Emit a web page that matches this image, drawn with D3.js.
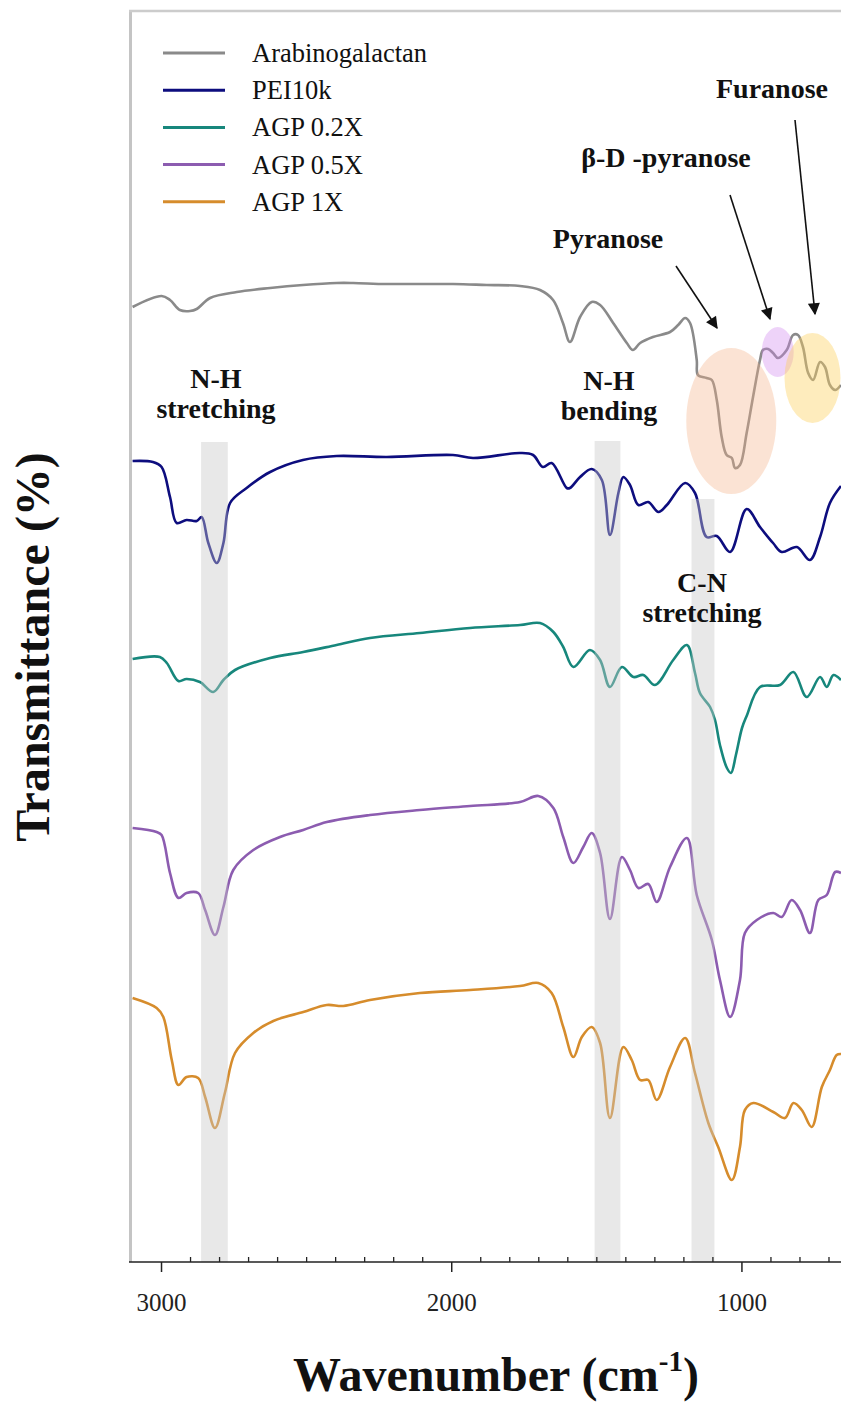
<!DOCTYPE html>
<html>
<head>
<meta charset="utf-8">
<script src="https://cdn.jsdelivr.net/npm/d3@7"></script>
<style>
  html, body { margin: 0; padding: 0; background: #fff; }
  svg { display: block; }
  text { font-family: "Liberation Serif", "Times New Roman", serif; }
</style>
</head>
<body>
<svg id="chart" width="841" height="1405"></svg>
<script>
// FTIR spectra, stacked with vertical offsets: [wavenumber (cm-1), offset transmittance]
const arabinogalactan = [
  [3098,95.5],[2998,96.6],[2969,96.2],[2935,95.2],[2900,95.1],[2877,95.3],[2831,96.4],[2739,97.0],
  [2624,97.4],[2511,97.7],[2395,97.9],[2338,97.9],[2222,97.8],[1994,97.8],[1878,97.7],[1763,97.6],
  [1694,97.2],[1649,96.2],[1615,93.9],[1591,92.0],[1556,94.5],[1516,96.0],[1487,95.7],[1442,93.9],
  [1395,91.9],[1374,91.2],[1349,91.9],[1305,92.5],[1246,93.0],[1218,93.7],[1194,94.4],[1177,93.9],
  [1154,90.2],[1150,88.7],[1120,88.4],[1102,88.2],[1085,86.2],[1068,82.5],[1051,80.7],[1033,80.4],
  [1022,79.4],[1005,79.7],[982,82.9],[960,86.5],[936,90.2],[926,91.2],[908,91.3],[891,90.9],
  [874,90.4],[844,91.2],[822,92.7],[805,92.7],[788,91.5],[770,88.9],[753,88.2],[729,90.0],
  [712,89.5],[695,87.7],[677,87.2],[657,87.7]
];
const pei10k = [
  [3098,80.1],[3028,80.0],[2998,79.5],[2969,76.5],[2946,73.9],[2912,74.2],[2877,74.1],[2860,74.5],
  [2837,71.9],[2808,69.9],[2785,71.9],[2762,75.9],[2705,77.4],[2624,79.0],[2511,80.2],[2395,80.6],
  [2222,80.5],[1994,80.7],[1925,80.4],[1763,80.9],[1718,80.7],[1684,79.5],[1654,79.9],[1602,77.4],
  [1591,77.4],[1556,78.5],[1516,79.3],[1481,78.2],[1453,72.7],[1424,76.9],[1407,78.5],[1384,77.7],
  [1355,75.7],[1321,76.0],[1286,75.0],[1257,75.7],[1194,77.9],[1160,76.9],[1120,72.5],[1085,72.6],
  [1039,71.0],[982,75.3],[936,73.5],[891,71.9],[861,71.0],[809,71.5],[764,70.2],[729,72.5],
  [695,75.9],[657,77.6]
];
const agp02 = [
  [3098,60.3],[3004,60.5],[2980,59.9],[2940,58.1],[2912,58.3],[2866,58.0],[2820,57.0],[2785,58.2],
  [2745,59.2],[2624,60.4],[2510,61.0],[2395,61.7],[2280,62.4],[2108,62.9],[1935,63.4],[1763,63.7],
  [1694,63.9],[1648,63.0],[1614,61.5],[1579,59.5],[1522,61.2],[1487,60.2],[1453,57.5],[1412,59.5],
  [1372,58.5],[1338,58.7],[1298,57.7],[1235,60.2],[1188,61.7],[1160,58.9],[1143,56.9],[1108,55.5],
  [1091,54.2],[1074,51.7],[1050,49.4],[1036,48.9],[1019,50.7],[998,53.4],[982,54.6],[936,57.5],
  [867,57.7],[821,59.0],[775,56.5],[729,58.5],[706,57.5],[683,58.7],[657,58.2]
];
const agp05 = [
  [3098,43.4],[3015,43.0],[2998,42.7],[2969,38.9],[2940,36.4],[2912,36.9],[2872,36.9],[2848,35.2],
  [2814,32.7],[2785,35.5],[2751,39.2],[2682,41.2],[2590,42.5],[2510,43.2],[2429,44.0],[2280,44.7],
  [2108,45.2],[1935,45.6],[1763,46.0],[1700,46.6],[1648,45.4],[1614,42.5],[1579,39.9],[1545,41.5],
  [1516,42.9],[1487,40.9],[1453,34.3],[1412,40.5],[1384,39.2],[1355,37.4],[1321,37.8],[1292,36.0],
  [1246,39.5],[1188,42.4],[1154,36.7],[1102,32.2],[1074,28.2],[1039,24.5],[1005,28.2],[988,32.9],
  [947,34.2],[890,34.9],[861,34.5],[827,36.2],[798,35.2],[764,32.9],[735,36.2],[706,36.7],
  [677,39.0],[657,38.9]
];
const agp1 = [
  [3098,26.4],[3015,25.4],[2992,24.5],[2963,20.2],[2940,17.7],[2912,18.5],[2872,18.4],[2848,16.5],
  [2814,13.4],[2780,16.9],[2745,20.9],[2682,22.9],[2613,24.1],[2510,25.0],[2429,25.7],[2372,25.6],
  [2280,26.2],[2108,26.9],[1935,27.2],[1763,27.6],[1700,27.9],[1654,26.9],[1614,23.5],[1579,20.5],
  [1550,22.5],[1516,23.5],[1487,21.9],[1453,14.4],[1407,21.5],[1378,20.2],[1349,18.2],[1321,18.2],
  [1292,16.2],[1246,19.5],[1194,22.4],[1160,18.9],[1114,13.9],[1080,11.5],[1033,8.2],[1005,11.5],
  [988,15.2],[959,15.9],[890,15.0],[850,14.4],[821,15.9],[792,15.2],[758,13.5],[723,17.5],
  [695,19.2],[672,20.7],[657,20.8]
];

const seriesNames  = ["Arabinogalactan", "PEI10k", "AGP 0.2X", "AGP 0.5X", "AGP 1X"];
const seriesColors = ["#8a8a8a", "#0d0d7e", "#17877c", "#8c5cb0", "#d68c2c"];
const seriesData   = [arabinogalactan, pei10k, agp02, agp05, agp1];

// highlighted absorption regions [from, to] in cm-1, and the level each band reaches
const bandRanges = [[2862, 2770], [1506, 1417], [1172, 1093]];
const bandTops   = [82.0, 82.1, 76.3];

const majorTicks = [3000, 2000, 1000];
const minorTicks = d3.range(2900, 600, -100).filter(d => !majorTicks.includes(d));

const serif = "'Liberation Serif', 'Times New Roman', serif";
const svg = d3.select("#chart");
const x = d3.scaleLinear().domain([3100, 650]).range([132, 843]);
const y = d3.scaleLinear().domain([0, 125]).range([1262, 12]);

// frame: light gray left and top border
svg.append("line").attr("x1", 130.5).attr("x2", 130.5).attr("y1", 10).attr("y2", 1262)
  .attr("stroke", "#c4c4c4").attr("stroke-width", 3);
svg.append("line").attr("x1", 129).attr("x2", 841).attr("y1", 11).attr("y2", 11)
  .attr("stroke", "#cccccc").attr("stroke-width", 2.5);

// spectra
const line = d3.line().x(d => x(d[0])).y(d => y(d[1])).curve(d3.curveCatmullRom.alpha(0.5));
svg.append("g").selectAll("path").data(seriesData).join("path")
  .attr("d", line).attr("fill", "none")
  .attr("stroke", (d, i) => seriesColors[i]).attr("stroke-width", 2.6)
  .attr("stroke-linejoin", "round");

// translucent bands over the spectra
svg.append("g").selectAll("rect").data(bandRanges).join("rect")
  .attr("x", d => x(d[0])).attr("width", d => x(d[1]) - x(d[0]))
  .attr("y", (d, i) => y(bandTops[i])).attr("height", (d, i) => y(0) - y(bandTops[i]))
  .attr("fill", "rgb(200,200,200)").attr("fill-opacity", 0.42);

// carbohydrate ring regions on the arabinogalactan spectrum
const ringMarks = [
  {cx: 1035, cy: 84.1, rx: 45, ry: 73, fill: "rgb(244,176,132)", op: 0.35},
  {cx: 875,  cy: 91.0, rx: 16, ry: 25, fill: "rgb(205,130,238)", op: 0.35},
  {cx: 755,  cy: 88.4, rx: 28, ry: 45, fill: "rgb(252,208,90)",  op: 0.40}
];
svg.append("g").selectAll("ellipse").data(ringMarks).join("ellipse")
  .attr("cx", d => x(d.cx)).attr("cy", d => y(d.cy)).attr("rx", d => d.rx).attr("ry", d => d.ry)
  .attr("fill", d => d.fill).attr("fill-opacity", d => d.op);

// x axis
const axisG = svg.append("g").attr("transform", "translate(0,1262)");
axisG.call(d3.axisBottom(x).tickValues(majorTicks).tickSize(10).tickPadding(21).tickFormat(d3.format("d")));
axisG.call(g => g.select(".domain").remove());
axisG.attr("font-family", null).style("font-family", serif);
axisG.selectAll(".tick line").attr("stroke", "#222").attr("stroke-width", 1.5);
axisG.selectAll(".tick text").attr("font-size", 25).attr("fill", "#222").style("font-family", serif);
const minorG = svg.append("g").attr("transform", "translate(0,1262)");
minorG.call(d3.axisBottom(x).tickValues(minorTicks).tickSize(-5).tickFormat(""));
minorG.call(g => g.select(".domain").remove());
minorG.selectAll(".tick line").attr("stroke", "#222").attr("stroke-width", 1.3);
svg.append("line").attr("x1", 129).attr("x2", 841).attr("y1", 1262).attr("y2", 1262)
  .attr("stroke", "#222").attr("stroke-width", 1.5);

// axis titles
const xt = svg.append("text").attr("x", 496).attr("y", 1391).attr("text-anchor", "middle")
  .attr("font-size", 48).attr("font-weight", "bold").attr("fill", "#111");
xt.append("tspan").text("Wavenumber (cm");
xt.append("tspan").attr("font-size", 29).attr("dy", -20).text("-1");
xt.append("tspan").attr("dy", 20).text(")");
svg.append("text").attr("transform", "translate(49,647) rotate(-90)").attr("text-anchor", "middle")
  .attr("font-size", 48).attr("font-weight", "bold").attr("fill", "#111").text("Transmittance (%)");

// legend
const legend = svg.append("g");
seriesNames.forEach((name, i) => {
  const ly = 53 + i * 37.2;
  legend.append("line").attr("x1", 163).attr("x2", 225).attr("y1", ly).attr("y2", ly)
    .attr("stroke", seriesColors[i]).attr("stroke-width", 3);
  legend.append("text").attr("x", 252).attr("y", ly + 9).attr("font-size", 26.5).attr("fill", "#111").text(name);
});

// band and peak annotations
const notes = [
  {x: 216, y: 388, lines: ["N-H", "stretching"]},
  {x: 609, y: 390, lines: ["N-H", "bending"]},
  {x: 702, y: 592, lines: ["C-N", "stretching"]},
  {x: 608, y: 248, lines: ["Pyranose"]},
  {x: 666, y: 167, lines: ["β-D -pyranose"]},
  {x: 772, y: 98,  lines: ["Furanose"]}
];
notes.forEach(n => {
  const t = svg.append("text").attr("text-anchor", "middle").attr("font-size", 28)
    .attr("font-weight", "bold").attr("fill", "#111");
  n.lines.forEach((s, k) => t.append("tspan").attr("x", n.x).attr("y", n.y + k * 30).text(s));
});

svg.append("defs").append("marker").attr("id", "head").attr("viewBox", "0 0 10 10")
  .attr("refX", 9).attr("refY", 5).attr("markerWidth", 14).attr("markerHeight", 12)
  .attr("markerUnits", "userSpaceOnUse").attr("orient", "auto")
  .append("path").attr("d", "M0,0 L10,5 L0,10 Z").attr("fill", "#111");

const arrows = [
  [676, 266, 717, 328],
  [730, 195, 770, 319],
  [795, 120, 815, 314]
];
svg.append("g").selectAll("line").data(arrows).join("line")
  .attr("x1", d => d[0]).attr("y1", d => d[1]).attr("x2", d => d[2]).attr("y2", d => d[3])
  .attr("stroke", "#111").attr("stroke-width", 1.6).attr("marker-end", "url(#head)");
</script>
</body>
</html>
